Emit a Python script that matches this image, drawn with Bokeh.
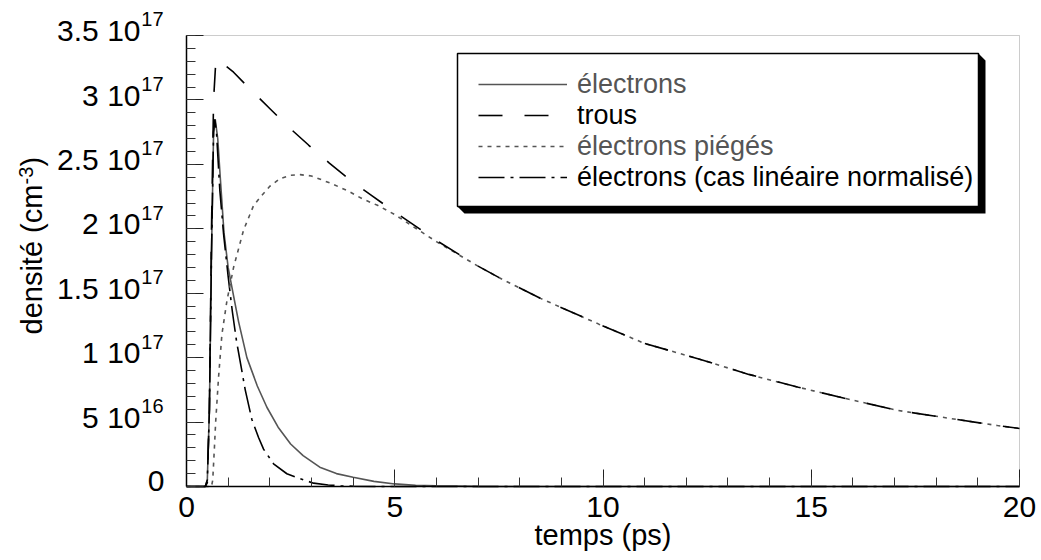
import math
from bokeh.plotting import figure
from bokeh.models import (Range1d, SingleIntervalTicker, Label, Legend, LegendItem, LinearAxis,
                          BoxAnnotation, PolyAnnotation, CustomJSTickFormatter)
from bokeh.embed import file_html
from bokeh.resources import INLINE

# ---------------- data (density in cm^-3, time in ps) ----------------
t_elec = [0.0, 0.45, 0.5, 0.55, 0.6, 0.65, 0.69, 0.75, 0.8, 0.9, 1.0, 1.1, 1.25, 1.45,
          1.7, 1.93, 2.2, 2.5, 2.8, 3.2, 3.6, 4.0, 4.5, 5.0, 5.5, 6.0, 7.0, 8.0, 20.0]
n_elec = [0.0, 0.0, 0.05e17, 0.6e17, 1.8e17, 2.75e17, 2.85e17, 2.7e17, 2.45e17, 1.97e17,
          1.70e17, 1.53e17, 1.28e17, 1.0e17, 0.78e17, 0.615e17, 0.46e17, 0.33e17, 0.24e17,
          0.15e17, 0.10e17, 0.072e17, 0.04e17, 0.02e17, 0.01e17, 0.005e17, 0.001e17, 0.0, 0.0]

t_trous = [0.0, 0.45, 0.5, 0.55, 0.6, 0.65, 0.7, 0.73, 0.8, 1.13, 1.57, 2.01, 2.45, 2.93,
           3.43, 3.92, 4.44, 5.0, 6.0, 7.0, 7.51, 8.5, 9.9, 11.0, 12.3, 13.5, 14.69, 16.0,
           17.08, 18.3, 19.47, 20.0]
n_trous = [0.0, 0.0, 0.03e17, 0.6e17, 2.0e17, 3.0e17, 3.28e17, 3.32e17, 3.30e17, 3.215e17,
           3.07e17, 2.93e17, 2.79e17, 2.65e17, 2.51e17, 2.38e17, 2.26e17, 2.13e17, 1.91e17,
           1.71e17, 1.62e17, 1.46e17, 1.26e17, 1.11e17, 0.99e17, 0.87e17, 0.77e17, 0.67e17,
           0.59e17, 0.53e17, 0.473e17, 0.45e17]

t_pieg = [0.0, 0.6, 0.63, 0.67, 0.7, 0.77, 0.85, 0.97, 1.13, 1.37, 1.61, 1.77, 2.0, 2.25,
          2.5, 2.73, 3.0, 3.49, 3.9, 4.24, 4.6, 5.0, 6.0, 7.0, 7.51, 8.5, 9.9, 11.0, 12.3,
          13.5, 14.69, 16.0, 17.08, 18.3, 19.47, 20.0]
n_pieg = [0.0, 0.0, 0.05e17, 0.3e17, 0.5e17, 0.85e17, 1.18e17, 1.44e17, 1.70e17, 1.99e17,
          2.18e17, 2.245e17, 2.33e17, 2.39e17, 2.415e17, 2.42e17, 2.41e17, 2.35e17, 2.29e17,
          2.23e17, 2.18e17, 2.11e17, 1.90e17, 1.71e17, 1.62e17, 1.46e17, 1.26e17, 1.11e17,
          0.99e17, 0.87e17, 0.77e17, 0.67e17, 0.59e17, 0.53e17, 0.473e17, 0.45e17]

t_lin = [0.0, 0.45, 0.5, 0.55, 0.6, 0.65, 0.68, 0.72, 0.8, 0.89, 1.0, 1.1, 1.2, 1.3, 1.41,
         1.57, 1.73, 1.85, 2.09, 2.41, 2.73, 3.05, 3.4, 3.7, 4.0, 4.5, 20.0]
n_lin = [0.0, 0.0, 0.05e17, 0.6e17, 1.8e17, 2.75e17, 2.85e17, 2.75e17, 2.3e17, 1.96e17,
         1.63e17, 1.36e17, 1.13e17, 0.95e17, 0.75e17, 0.52e17, 0.38e17, 0.29e17, 0.176e17,
         0.099e17, 0.06e17, 0.026e17, 0.012e17, 0.005e17, 0.002e17, 0.0, 0.0]

series_labels = ["électrons", "trous", "électrons piégés", "électrons (cas linéaire normalisé)"]

y_tick_values = [0, 5e16, 1e17, 1.5e17, 2e17, 2.5e17, 3e17, 3.5e17]
y_tick_mant = ["0", "5", "1", "1.5", "2", "2.5", "3", "3.5"]
y_tick_exp = ["", "16", "17", "17", "17", "17", "17", "17"]

x_title = "temps (ps)"
y_title_main = "densité (cm"
y_title_sup = "-3"
y_title_end = ")"

# ---------------- layout ----------------
FONT = "Liberation Sans"
W, H = 1041, 560
X0, X1, Y0, Y1 = 0.0, 20.0, 0.0, 3.5e17
FL, FR, FT, FB = 186, 1019, 35, 486   # plot-area edges in canvas pixels
BASE_FIX = 0.43                       # anchor correction (in em) for text placement


def X(sx):
    return (sx - FL) / (FR - FL) * (X1 - X0) + X0


def Y(sy):
    return (FB - sy) / (FB - FT) * (Y1 - Y0) + Y0


p = figure(width=W, height=H, x_range=Range1d(X(0), X(W)), y_range=Range1d(Y(H), Y(0)),
           output_backend="svg", toolbar_location=None, min_border=0,
           x_axis_location=None, y_axis_location=None)
p.grid.visible = False
p.outline_line_color = None
p.background_fill_color = "white"
p.border_fill_color = "white"

# plot-area frame (thin grey box)
p.add_layout(BoxAnnotation(left=X0, right=X1, bottom=Y0, top=Y1, fill_alpha=0.0,
                           line_color="#555555", line_width=1, level="underlay"))

xax = LinearAxis(fixed_location=Y0, bounds=(X0, X1),
                 ticker=SingleIntervalTicker(interval=5, num_minor_ticks=5))
yax = LinearAxis(fixed_location=X0, bounds=(Y0, Y1),
                 ticker=SingleIntervalTicker(interval=5e16, num_minor_ticks=5),
                 formatter=CustomJSTickFormatter(code="return ''"))
for ax in (xax, yax):
    ax.axis_line_color = "black"
    ax.axis_line_width = 1.5
    ax.major_tick_in = 17
    ax.major_tick_out = 0
    ax.minor_tick_in = 9
    ax.minor_tick_out = 0
    ax.major_tick_line_color = "#222222"
    ax.minor_tick_line_color = "#333333"
xax.major_label_text_font = FONT
xax.major_label_text_font_size = "30px"
xax.major_label_text_color = "black"
xax.major_label_standoff = 10
yax.major_label_standoff = 0
p.add_layout(xax, "below")
p.add_layout(yax, "left")

# ---------------- curves ----------------
r_elec = p.line(t_elec, n_elec, line_color="#555555", line_width=1.6)
r_lin = p.line(t_lin, n_lin, line_color="black", line_width=1.6, line_dash="26 6 3 6")
r_pieg = p.line(t_pieg, n_pieg, line_color="#555555", line_width=1.6, line_dash="4 5")
r_trous = p.line(t_trous, n_trous, line_color="black", line_width=1.6, line_dash="24 22")


def text_label(sx, sy, text, size, angle=0.0):
    """Place a text whose alphabetic baseline passes through canvas point (sx, sy)."""
    fix = BASE_FIX * size
    if angle:
        sx -= fix
    else:
        sy -= fix
    return Label(x=X(sx), y=Y(sy), text=text, angle=angle,
                 text_align="right" if not angle else "left",
                 text_baseline="alphabetic", text_font=FONT,
                 text_font_size=f"{size}px", text_color="black")


# ---------------- y tick labels with superscripts ----------------
for v, m, e in zip(y_tick_values, y_tick_mant, y_tick_exp):
    sy = FB - (v - Y0) / (Y1 - Y0) * (FB - FT)
    if e:
        p.add_layout(text_label(FL - 46, sy + 8, m + " 10", 30))
        p.add_layout(text_label(FL - 23, sy - 7.5, e, 20))
    else:
        p.add_layout(text_label(FL - 22, sy + 7.5, m, 30))

# ---------------- axis titles ----------------
xt = text_label((FL + FR) / 2, 547, x_title, 29)
xt.text_align = "center"
p.add_layout(xt)
ang = math.pi / 2
y_start = 334
p.add_layout(text_label(44, y_start, y_title_main, 29, angle=ang))
y_sup = y_start - 150
p.add_layout(text_label(34, y_sup, y_title_sup, 20, angle=ang))
p.add_layout(text_label(44, y_sup - 18, y_title_end, 29, angle=ang))

# ---------------- legend box with shadow ----------------
LL, LR, LT, LB, SH = 457, 978, 53, 206, 7
shadow = PolyAnnotation(
    xs=[X(LR), X(LR + SH), X(LR + SH), X(LL + SH), X(LL), X(LR)],
    ys=[Y(LT), Y(LT + SH), Y(LB + SH), Y(LB + SH), Y(LB), Y(LB)],
    fill_color="black", fill_alpha=1.0, line_color=None)
p.add_layout(shadow)
box = BoxAnnotation(left=X(LL), right=X(LR), top=Y(LT), bottom=Y(LB),
                    fill_color="white", fill_alpha=1.0, line_color="black",
                    line_width=1.5, line_alpha=1.0)
p.add_layout(box)

ROW_H, PITCH, ROW1 = 32, 31, 84
GX0, GW = 478, 89


def make_legend(items, top_center, color):
    top = top_center - ROW_H / 2
    height = 2 * ROW_H + (2 * PITCH - ROW_H)
    bottom = top + height
    return Legend(items=items, location=(GX0, H - bottom), orientation="vertical",
                  glyph_width=GW, glyph_height=ROW_H, label_height=ROW_H,
                  label_standoff=10, padding=0, margin=0, spacing=2 * PITCH - ROW_H,
                  border_line_color=None, background_fill_alpha=0.0,
                  label_text_font=FONT, label_text_font_size="27px",
                  label_text_color=color)


legA = make_legend([LegendItem(label=series_labels[0], renderers=[r_elec]),
                    LegendItem(label=series_labels[2], renderers=[r_pieg])],
                   ROW1, "#555555")
legB = make_legend([LegendItem(label=series_labels[1], renderers=[r_trous]),
                    LegendItem(label=series_labels[3], renderers=[r_lin])],
                   ROW1 + PITCH, "black")
p.add_layout(legA)
p.add_layout(legB)

open("out.html", "w").write(file_html(p, INLINE))
